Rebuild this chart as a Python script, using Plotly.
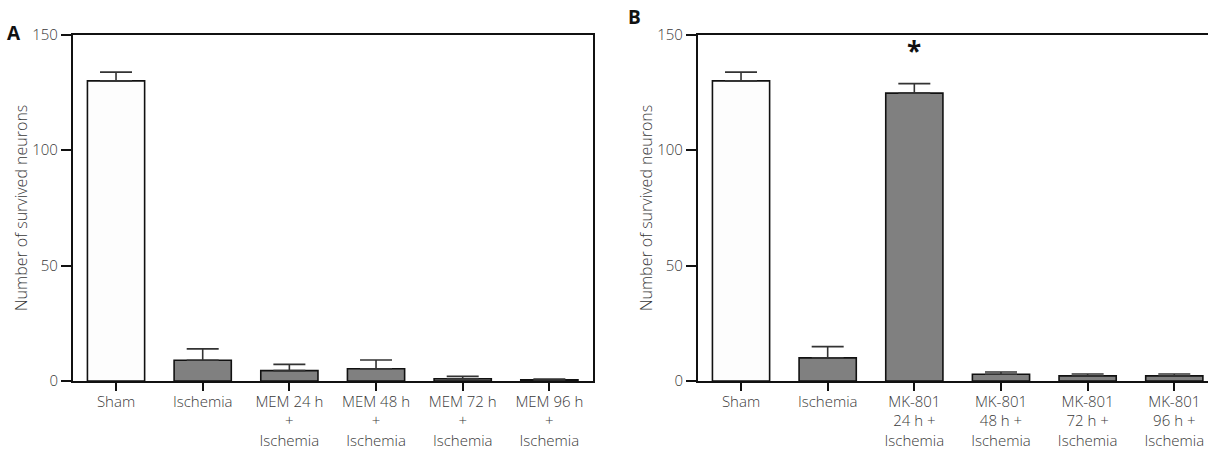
import plotly.graph_objects as go

# Panel A data
cats_a = ["Sham", "Ischemia", "MEM 24 h<br>+<br>Ischemia", "MEM 48 h<br>+<br>Ischemia",
          "MEM 72 h<br>+<br>Ischemia", "MEM 96 h<br>+<br>Ischemia"]
vals_a = [130, 9, 4.5, 5.3, 1.0, 0.5]
errs_a = [3.8, 4.9, 2.7, 3.8, 1.0, 0.3]
colors_a = ["#fdfdfd", "#808080", "#808080", "#808080", "#808080", "#808080"]

# Panel B data
cats_b = ["Sham", "Ischemia", "MK-801<br>24 h +<br>Ischemia", "MK-801<br>48 h +<br>Ischemia",
          "MK-801<br>72 h +<br>Ischemia", "MK-801<br>96 h +<br>Ischemia"]
vals_b = [130, 10, 124.7, 2.9, 2.2, 2.2]
errs_b = [3.8, 4.9, 4.1, 1.0, 0.8, 0.8]
colors_b = ["#fdfdfd", "#808080", "#808080", "#808080", "#808080", "#808080"]

y_ticks = [0, 50, 100, 150]
y_title = "Number of survived neurons"

FONT = "Open Sans"
TXT = "#3a3a3a"
W, H = 1208, 455

fig = go.Figure()

def add_bars(cats, vals, errs, colors, xa, ya):
    fig.add_trace(go.Bar(
        x=cats, y=vals, width=0.66,
        marker=dict(color=colors, line=dict(color="#111111", width=1.6)),
        error_y=dict(type="data", array=errs, arrayminus=[0] * len(errs), symmetric=False,
                     color="#333333", thickness=1.6, width=16),
        xaxis=xa, yaxis=ya, showlegend=False,
    ))

add_bars(cats_a, vals_a, errs_a, colors_a, "x", "y")
add_bars(cats_b, vals_b, errs_b, colors_b, "x2", "y2")

ydom = [74 / H, (H - 34.7) / H]
axis_common = dict(showline=True, linecolor="#111111", linewidth=1.5, ticks="outside",
                   tickcolor="#111111", tickwidth=1.5, showgrid=False, zeroline=False,
                   automargin=False)
xfont = dict(family=FONT, size=15, color=TXT, weight=300)
yfont = dict(family=FONT, size=15, color=TXT, weight=300)
tfont = dict(family=FONT, size=16, color=TXT, weight=300)

fig.update_layout(
    template="none",
    width=W, height=H,
    margin=dict(l=0, r=0, t=0, b=0),
    paper_bgcolor="white", plot_bgcolor="white",
    xaxis=dict(domain=[72.7 / W, 592.7 / W], anchor="y", type="category",
               range=[-0.5, 5.5], mirror=True, ticklen=8, tickfont=xfont,
               ticklabelstandoff=-2, **axis_common),
    yaxis=dict(domain=ydom, anchor="x", range=[0, 150], tickvals=y_ticks, mirror=True,
               ticklen=10, tickfont=yfont,
               title=dict(text=y_title, font=tfont, standoff=0),
               **axis_common),
    xaxis2=dict(domain=[697.7 / W, 1.0], anchor="y2", type="category",
                range=[-0.5, 5.389], mirror=True, ticklen=8, tickfont=xfont,
                ticklabelstandoff=-2, **axis_common),
    yaxis2=dict(domain=ydom, anchor="x2", range=[0, 150], tickvals=y_ticks, mirror=False,
                ticklen=10, tickfont=yfont,
                title=dict(text=y_title, font=tfont, standoff=0),
                **axis_common),
    annotations=[
        dict(text="<b>A</b>", x=14 / W, y=(H - 33) / H, xref="paper", yref="paper",
             showarrow=False, font=dict(family=FONT, size=19, color="#111111"),
             xanchor="center", yanchor="middle"),
        dict(text="<b>B</b>", x=634 / W, y=(H - 17) / H, xref="paper", yref="paper",
             showarrow=False, font=dict(family=FONT, size=19, color="#111111"),
             xanchor="center", yanchor="middle"),
        dict(text="<b>*</b>", x=cats_b[2], y=143, xref="x2", yref="y2",
             showarrow=False, font=dict(family=FONT, size=26, color="#111111"),
             xanchor="center", yanchor="middle"),
    ],
)

fig.write_html("out.html")
